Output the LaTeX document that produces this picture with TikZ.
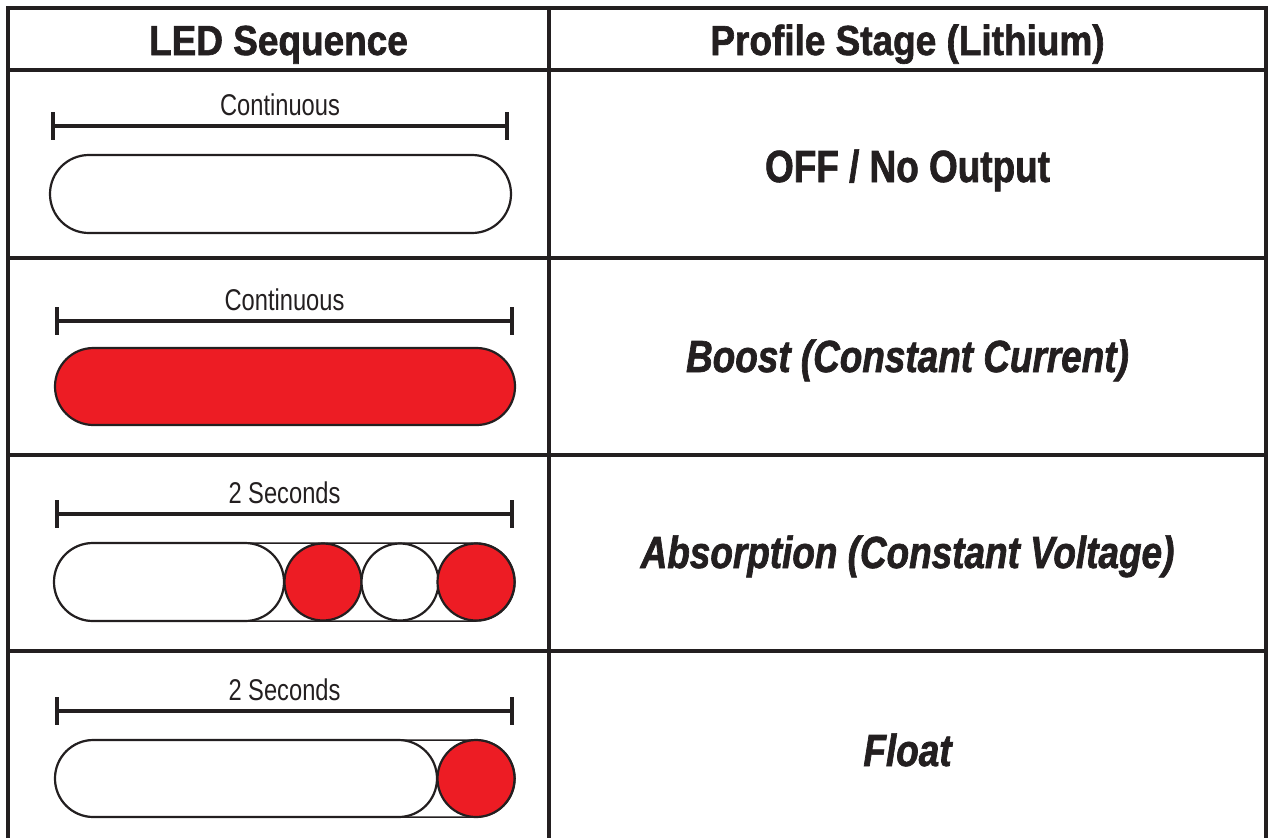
\documentclass[tikz,border=0pt]{standalone}
\usepackage{fontspec}
\usepackage{xcolor}
\usepackage{tikz}
\usetikzlibrary{positioning}
\setmainfont{Liberation Sans}
\newfontfamily\headfont{Liberation Sans}[FakeStretch=0.88, BoldFeatures={FakeBold=1.5}]
\newfontfamily\stagefont{Liberation Sans}[FakeStretch=0.82, BoldFeatures={FakeBold=1.5}, BoldItalicFeatures={FakeBold=1.5}]
\newfontfamily\spanfont{Liberation Sans}[FakeStretch=0.79]
\definecolor{ink}{HTML}{231F20}
\definecolor{ledred}{HTML}{ED1C24}

\begin{document}
\begin{tikzpicture}[
    x=1pt, y=-1pt,
    grid/.style={draw=ink, line width=3.4pt},
    head/.style={font=\headfont\bfseries\fontsize{42}{48}\selectfont, text=ink, anchor=base, inner sep=0pt},
    stage/.style={font=\stagefont\bfseries\fontsize{45}{52}\selectfont, text=ink, anchor=base, inner sep=0pt},
    span/.style={font=\spanfont\fontsize{30}{36}\selectfont, text=ink, anchor=base, inner sep=0pt},
    timebar/.style={draw=ink, line width=3.6pt},
    led/.style={draw=ink, line width=2.2pt, fill=white},
    ledon/.style={led, fill=ledred},
    track/.style={draw=ink, line width=1.5pt, fill=white}
]
\useasboundingbox (0,0) rectangle (1268,838);

% Table frame
\draw[grid] (8,838) -- (8,8) -- (1266,8) -- (1266,838);
\draw[grid] (549,8) -- (549,838);
\foreach \y in {70,258,455,651}
    \draw[grid] (8,\y) -- (1266,\y);

% Header
\node[head] (ledhead) at (278.5,55) {LED Sequence};
\node[head] (stagehead) at (907.5,55) {Profile Stage (Lithium)};

% Time spans above the LEDs
\foreach \bary/\xa/\xb/\txt [count=\i] in {126/53/507/Continuous, 321/57/512/Continuous, 514/57/512/2 Seconds, 711/57/512/2 Seconds} {
    \draw[timebar] (\xa,\bary) -- (\xb,\bary);
    \draw[timebar, line width=4pt] (\xa,\bary-14) -- (\xa,\bary+14);
    \draw[timebar, line width=4pt] (\xb,\bary-14) -- (\xb,\bary+14);
    \node[span] (span\i) at ({(\xa+\xb)/2},\bary-11) {\txt};
}

% LED off
\draw[led, rounded corners=38.9pt] (50,155) rectangle (511,233);

% LED solid red
\draw[ledon, rounded corners=38.4pt] (55,348) rectangle (515,425);

% LED blinking fast
\draw[track, rounded corners=38.9pt] (54,543) rectangle (515,621);
\draw[led, rounded corners=38.9pt] (54,543) rectangle (284,621);
\draw[ledon] (323,582) circle (38.5);
\draw[led] (400,582) circle (38.5);
\draw[ledon] (476,582) circle (38.5);

% LED blinking slow
\draw[track, rounded corners=38.4pt] (55,740) rectangle (515,817);
\draw[led, rounded corners=38.4pt] (55,740) rectangle (437,817);
\draw[ledon] (476,778.5) circle (38.5);

% Stages
\node[stage] (off) at (907.5,182) {OFF / No Output};
\node[stage] (boost) at (907.5,372) {\itshape Boost (Constant Current)};
\node[stage] (absorb) at (907.5,568) {\itshape Absorption (Constant Voltage)};
\node[stage] (float) at (907.5,766) {\itshape Float};

\end{tikzpicture}
\end{document}
